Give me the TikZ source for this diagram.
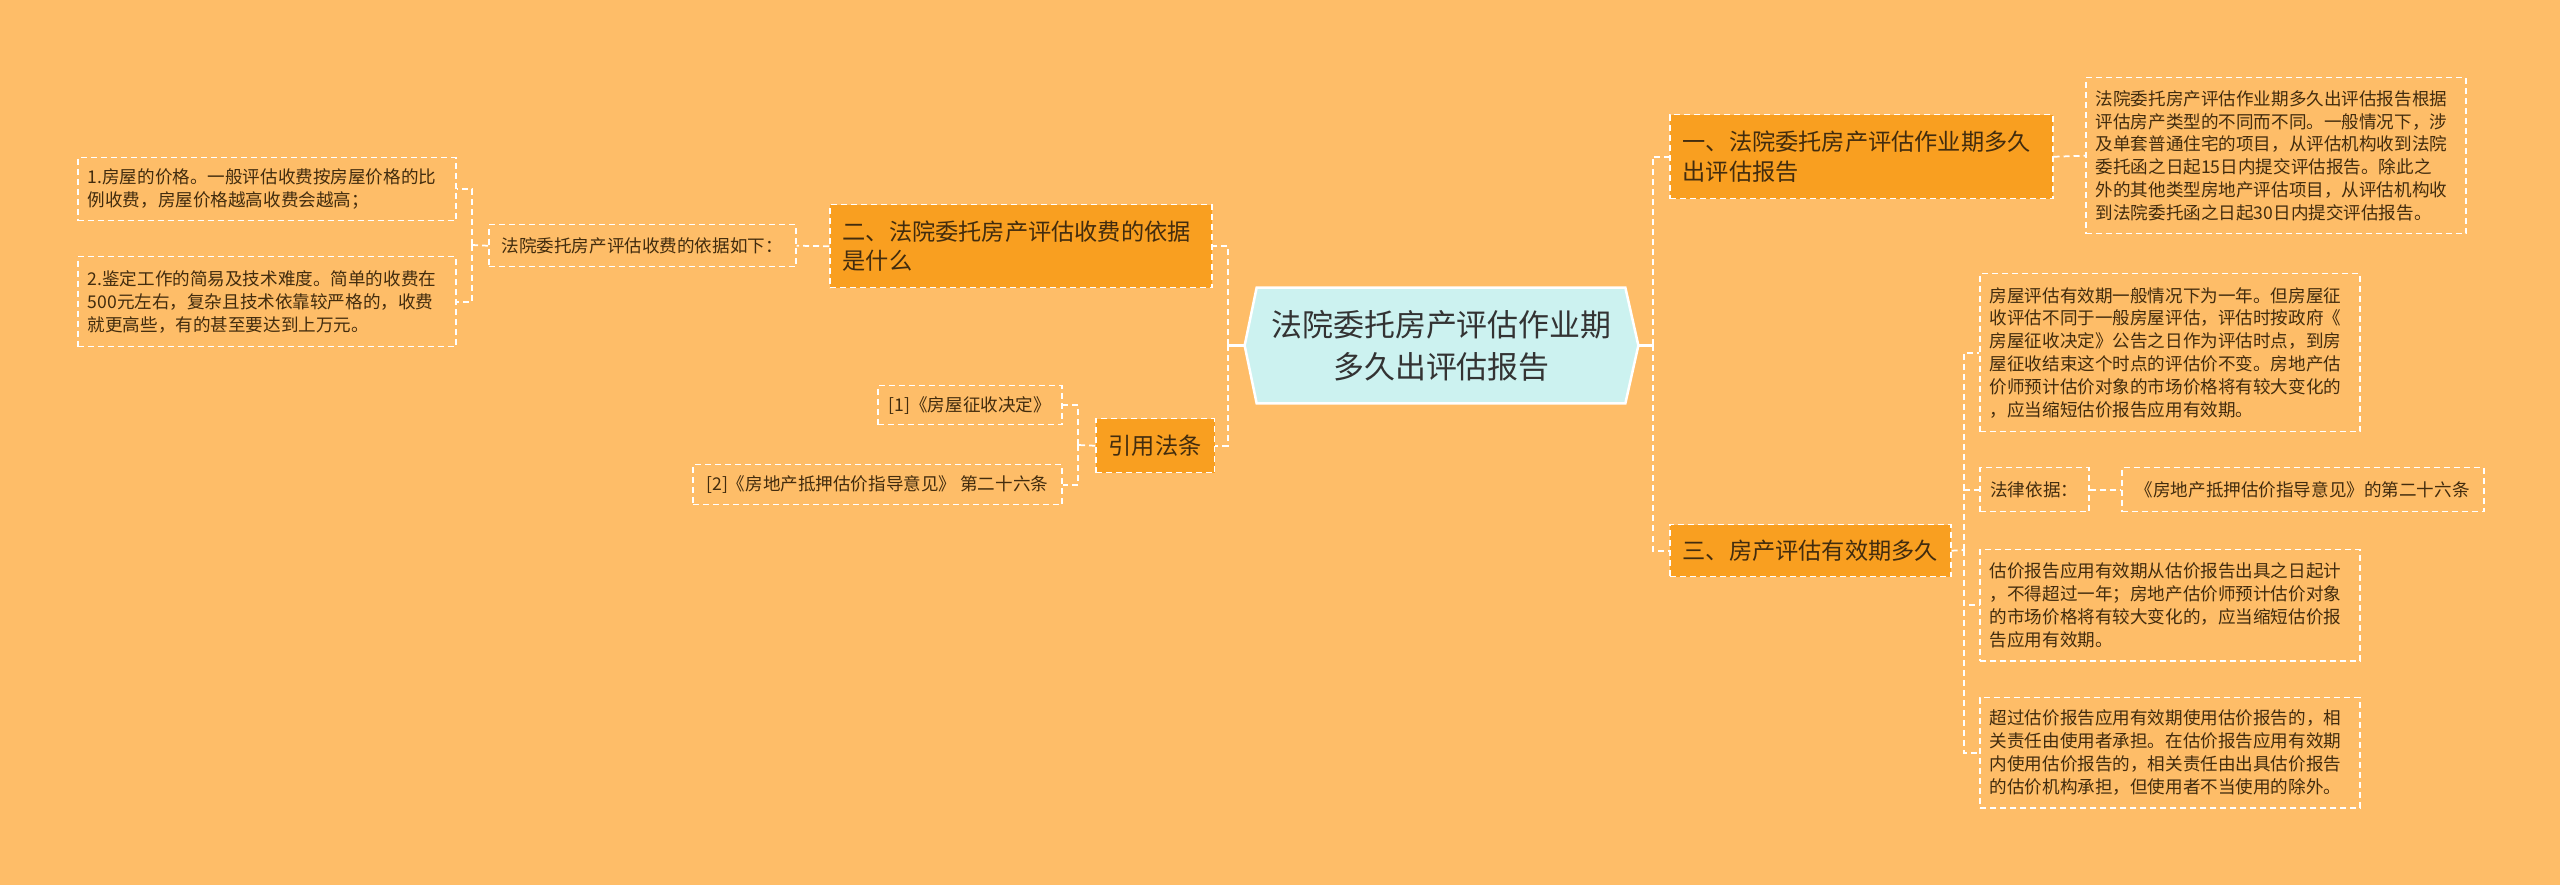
\documentclass[tikz,border=0pt]{standalone}
\usepackage{fontspec}
\setmainfont{Noto Sans CJK SC}
\usetikzlibrary{
    calc,
    positioning,
    backgrounds
}
\definecolor{paper}{RGB}{254,189,104}
\definecolor{topicfill}{RGB}{249,159,32}
\definecolor{hubfill}{RGB}{204,242,240}
\definecolor{ink}{RGB}{51,51,51}
\definecolor{leafink}{RGB}{66,44,14}
\newcommand\leaffont{\fontsize{10pt}{13pt}\selectfont}
\newcommand\topicfont{\fontsize{13.2pt}{16.7pt}\selectfont}
\newcommand\hubfont{\fontsize{17.6pt}{24pt}\selectfont}
\tikzset{
    hub/.style={draw=none, minimum width=78.6mm, minimum height=23mm,
        align=center, font=\hubfont, text=ink, inner sep=0pt},
    hubshape/.style={draw=white, line width=0.5mm, fill=hubfill},
    topic/.style={draw=white, dash pattern=on 1.2mm off 0.8mm, line width=0.3mm,
        fill=topicfill, font=\topicfont, text=leafink, align=left,
        inner xsep=2.6mm, inner ysep=0pt, anchor=north west},
    leaf/.style={draw=white, dash pattern=on 1.2mm off 0.8mm, line width=0.3mm,
        font=\leaffont, text=leafink, align=left,
        inner xsep=2mm, inner ysep=0pt, anchor=north west},
    link/.style={draw=white, dash pattern=on 1.2mm off 0.8mm, line width=0.35mm},
    stem/.style={draw=white, line width=0.45mm}
}

\begin{document}
\begin{tikzpicture}[x=0.2mm, y=-0.2mm]
    \begin{scope}[on background layer]
        \fill[paper] (0,0) rectangle (2560,885);
    \end{scope}
    \useasboundingbox (0,0) rectangle (2560,885);

    % centre
    \node[hub] (hub) at (1441.5,345.5) {法院委托房产评估作业期\\多久出评估报告};
    \begin{scope}[on background layer]
        \draw[hubshape] (hub.west) -- ([xshift=2.4mm]hub.north west)
            -- ([xshift=-2.6mm]hub.north east) -- (hub.east)
            -- ([xshift=-2.6mm]hub.south east) -- ([xshift=2.4mm]hub.south west) -- cycle;
    \end{scope}

    % right side
    \node[topic, text width=71.4mm, minimum height=16.8mm] (first) at (1669,114)
        {一、法院委托房产评估作业期多久\\出评估报告};
    \node[topic, minimum width=55.8mm, minimum height=10.4mm] (third) at (1669,524)
        {三、房产评估有效期多久};
    \node[leaf, text width=72mm, minimum height=31.2mm] (period) at (2085,77)
        {法院委托房产评估作业期多久出评估报告根据\\
         评估房产类型的不同而不同。一般情况下，涉\\
         及单套普通住宅的项目，从评估机构收到法院\\
         委托函之日起15日内提交评估报告。除此之\\
         外的其他类型房地产评估项目，从评估机构收\\
         到法院委托函之日起30日内提交评估报告。};
    \node[leaf, text width=72mm, minimum height=31.6mm] (validity) at (1979,273)
        {房屋评估有效期一般情况下为一年。但房屋征\\
         收评估不同于一般房屋评估，评估时按政府《\\
         房屋征收决定》公告之日作为评估时点，到房\\
         屋征收结束这个时点的评估价不变。房地产估\\
         价师预计估价对象的市场价格将有较大变化的\\
         ，应当缩短估价报告应用有效期。};
    \node[leaf, minimum width=21.8mm, minimum height=8.8mm] (basis) at (1979,467)
        {法律依据：};
    \node[leaf, minimum width=72.4mm, minimum height=8.8mm] (lawref) at (2121,467)
        {《房地产抵押估价指导意见》的第二十六条};
    \node[leaf, text width=72mm, minimum height=22.2mm] (usage) at (1979,549)
        {估价报告应用有效期从估价报告出具之日起计\\
         ，不得超过一年；房地产估价师预计估价对象\\
         的市场价格将有较大变化的，应当缩短估价报\\
         告应用有效期。};
    \node[leaf, text width=72mm, minimum height=22mm] (liability) at (1979,697)
        {超过估价报告应用有效期使用估价报告的，相\\
         关责任由使用者承担。在估价报告应用有效期\\
         内使用估价报告的，相关责任由出具估价报告\\
         的估价机构承担，但使用者不当使用的除外。};

    % left side
    \node[topic, text width=71.2mm, minimum height=16.6mm] (second) at (829,204)
        {二、法院委托房产评估收费的依据\\是什么};
    \node[topic, minimum width=23.2mm, minimum height=10.8mm] (cite) at (1095,418)
        {引用法条};
    \node[leaf, minimum width=61.4mm, minimum height=8.4mm] (feebasis) at (488,224)
        {法院委托房产评估收费的依据如下：};
    \node[leaf, text width=71.6mm, minimum height=12.6mm] (price) at (77,157)
        {1.房屋的价格。一般评估收费按房屋价格的比\\
         例收费，房屋价格越高收费会越高；};
    \node[leaf, text width=71.6mm, minimum height=18mm] (difficulty) at (77,256)
        {2.鉴定工作的简易及技术难度。简单的收费在\\
         500元左右，复杂且技术依靠较严格的，收费\\
         就更高些，有的甚至要达到上万元。};
    \node[leaf, minimum width=36.8mm, minimum height=7.8mm] (decree) at (877,385)
        {[1]《房屋征收决定》};
    \node[leaf, minimum width=73.8mm, minimum height=8mm] (guide) at (692,464)
        {[2]《房地产抵押估价指导意见》 第二十六条};

    % connectors
    \coordinate (rtrunk) at (1653,345.5);
    \coordinate (ltrunk) at (1228,345.5);
    \coordinate (thirdtrunk) at (1964,550);
    \coordinate (feetrunk) at (472,245);
    \coordinate (citetrunk) at (1078,445);

    \draw[stem] (hub.east) -- (rtrunk);
    \draw[stem] (hub.west) -- (ltrunk);
    \draw[link] (rtrunk) |- (first.west);
    \draw[link] (rtrunk) |- (third.west);
    \draw[link] (ltrunk) |- (second.east);
    \draw[link] (ltrunk) |- (cite.east);

    \draw[link] (first.east) -- (period.west);
    \draw[link] (third.east) -- (thirdtrunk);
    \foreach \leafnode in {validity,basis,usage,liability}
        \draw[link] (thirdtrunk) |- (\leafnode.west);
    \draw[link] (basis.east) -- (lawref.west);

    \draw[link] (second.west) -- (feebasis.east);
    \draw[link] (feebasis.west) -- (feetrunk);
    \foreach \leafnode in {price,difficulty}
        \draw[link] (feetrunk) |- (\leafnode.east);
    \draw[link] (cite.west) -- (citetrunk);
    \foreach \leafnode in {decree,guide}
        \draw[link] (citetrunk) |- (\leafnode.east);
\end{tikzpicture}
\end{document}
